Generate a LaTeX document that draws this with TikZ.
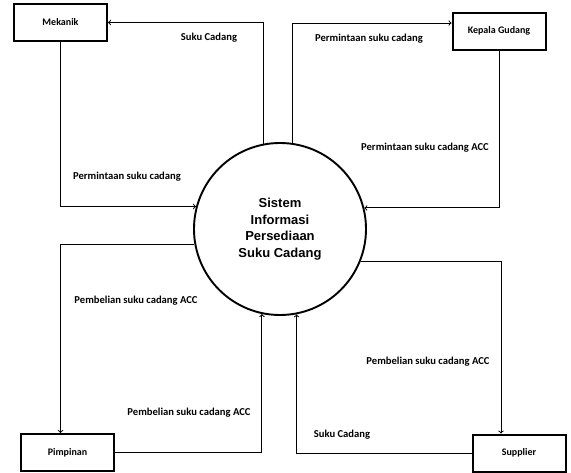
\documentclass[tikz,border=0pt]{standalone}
\usepackage{fontspec}
\setmainfont{Carlito}
\newfontfamily\sysfont{Liberation Sans}
\newcommand{\lbl}[1]{\fontsize{10.6}{12}\selectfont\textbf{#1}}

\begin{document}
\begin{tikzpicture}[x=1pt,y=-1pt]
                        \tikzstyle{entity}=[draw,line width=2pt,minimum width=93pt,minimum height=37pt,inner sep=0pt,font=\fontsize{10}{12}\selectfont\bfseries]
                        \tikzstyle{proc}=[draw,circle,line width=1.9pt,minimum size=172pt,inner sep=0pt,align=center,font=\sysfont\fontsize{13}{16.5}\selectfont\bfseries]
                        \tikzstyle{flow}=[->,line width=1pt]
                        \tikzstyle{lab}=[inner sep=1pt]
                        \useasboundingbox (0,0) rectangle (571,472);
                        \node[proc] (sistem) at (280,229) {Sistem\\Informasi\\Persediaan\\Suku Cadang};
                        \node[entity] (mekanik) at (60.5,22.5) {Mekanik};
                        \node[entity] (kepala) at (499,31) {Kepala Gudang};
                        \node[entity] (pimpinan) at (67.5,452.5) {Pimpinan};
                        \node[entity] (supplier) at (519,453) {Supplier};
                        \node[lab] (l1) at (209,38) {\lbl{Suku Cadang}};
                        \node[lab] (l2) at (127,177) {\lbl{Permintaan suku cadang}};
                        \node[lab] (l3) at (369,39) {\lbl{Permintaan suku cadang}};
                        \node[lab] (l4) at (425,148) {\lbl{Permintaan suku cadang ACC}};
                        \node[lab] (l5) at (136,301) {\lbl{Pembelian suku cadang ACC}};
                        \node[lab] (l6) at (189,413) {\lbl{Pembelian suku cadang ACC}};
                        \node[lab] (l7) at (428,362) {\lbl{Pembelian suku cadang ACC}};
                        \node[lab] (l8) at (342,435) {\lbl{Suku Cadang}};
                        \draw[flow] (sistem.101.4) |- (mekanik.east);
                        \draw[flow] (mekanik.south) |- (sistem.165.2);
                        \draw[flow] (sistem.82) |- ([yshift=8pt]kepala.west);
                        \draw[flow] (kepala.south) |- (sistem.14.8);
                        \draw[flow] (sistem.190.7) -| ([xshift=-7pt]pimpinan.north);
                        \draw[flow] (pimpinan.east) -| (sistem.258.6);
                        \draw[flow] (sistem.-22.6) -| ([xshift=-18pt]supplier.north);
                        \draw[flow] (supplier.west) -| (sistem.281.4);
                    \end{tikzpicture}
\end{document}
